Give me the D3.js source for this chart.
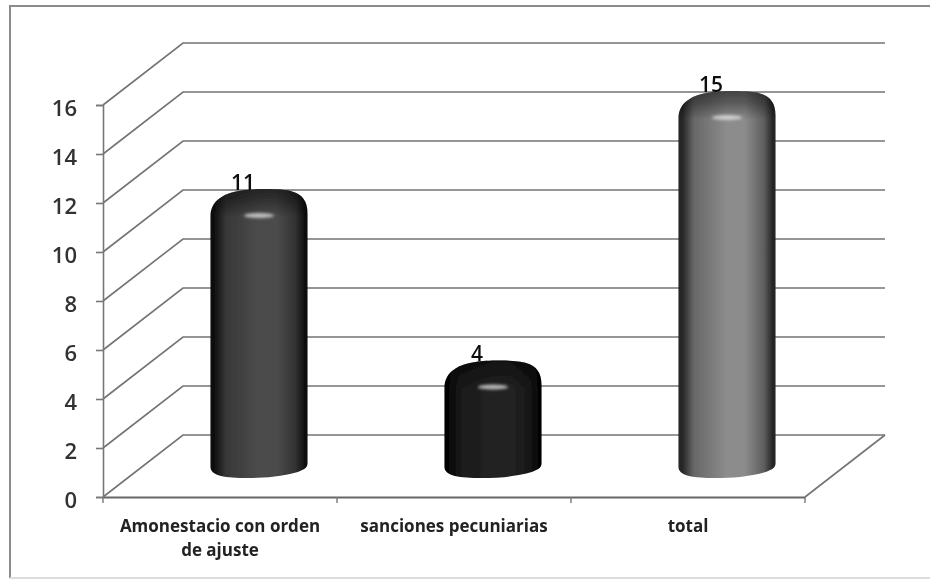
<!DOCTYPE html>
<html>
<head>
<meta charset="utf-8">
<script src="https://cdn.jsdelivr.net/npm/d3@7"></script>
<style>
  html, body { margin: 0; padding: 0; background: #fff; }
  text { font-family: "Open Sans", Lato, sans-serif; fill: #222; }
  .y text { font-size: 22px; font-weight: 600; fill: #333; }
  .cat { font-size: 17px; font-weight: 700; }
  .val { font-size: 21px; font-weight: 600; fill: #111; }
</style>
</head>
<body>
<div class="chart"></div>
<script>
const categories = ['Amonestacio con orden de ajuste', 'sanciones pecuniarias', 'total'];
const categoryLines = [['Amonestacio con orden', 'de ajuste'], ['sanciones pecuniarias'], ['total']];
const values = [11, 4, 15];
const yTicks = [0, 2, 4, 6, 8, 10, 12, 14, 16];
// edge and mid colours of each cylinder
const barEdge = ['#101010', '#050505', '#262626'];
const barMid = ['#4c4c4c', '#232323', '#8c8c8c'];

const width = 930;
const height = 583;
const depthX = 80;
const depthY = -62;

const svg = d3.select('div.chart').append('svg')
    .attr('width', width)
    .attr('height', height)
    .style('display', 'block');

const defs = svg.append('defs');
defs.append('filter').attr('id', 'soft')
    .append('feGaussianBlur').attr('stdDeviation', 0.6);
defs.append('filter').attr('id', 'shineBlur')
    .attr('x', '-50%').attr('y', '-300%').attr('width', '200%').attr('height', '700%')
    .append('feGaussianBlur').attr('stdDeviation', 1.6);

const x = d3.scaleBand()
    .domain(categories)
    .range([103, 805])
    .paddingInner(0.585)
    .paddingOuter(0.2925);
const y = d3.scaleLinear().domain([0, 16]).range([497, 105]);

const root = svg.append('g').attr('filter', 'url(#soft)');

// scanned page frame
root.append('path')
    .attr('d', 'M930,6H10V578')
    .attr('fill', 'none')
    .attr('stroke', '#8c8c8c')
    .attr('stroke-width', 2);
root.append('path')
    .attr('d', 'M10,578H930')
    .attr('fill', 'none')
    .attr('stroke', '#dcdcdc')
    .attr('stroke-width', 2);

// floor and back wall lines
const grid = root.append('g').attr('fill', 'none').attr('stroke', '#747474').attr('stroke-width', 1.6);
grid.selectAll('path.wall')
    .data(yTicks)
    .enter()
    .append('path')
    .attr('class', 'wall')
    .attr('d', (d) => `M${x.range()[0]},${y(d)}l${depthX},${depthY}H${x.range()[1] + depthX}`);
grid.append('path')
    .attr('d', `M${x.range()[1]},${y(0)}l${depthX},${depthY}`);

// axes
const yAxis = root.append('g')
    .attr('class', 'y')
    .attr('transform', `translate(${x.range()[0]},0)`)
    .call(d3.axisLeft(y).tickValues(yTicks).tickSize(7).tickPadding(19));
yAxis.selectAll('line, path').attr('stroke', '#777').attr('stroke-width', 1.6);
yAxis.selectAll('text').attr('transform', 'translate(0,3)');

const xAxis = root.append('g')
    .attr('transform', `translate(0,${y(0)})`)
    .call(d3.axisBottom(x).tickSize(0).tickFormat(''));
xAxis.select('.domain').attr('stroke', '#666').attr('stroke-width', 1.8);
xAxis.selectAll('line.edge')
    .data(d3.range(categories.length + 1))
    .enter()
    .append('line')
    .attr('class', 'edge')
    .attr('x1', (d) => x.range()[0] + d * x.step())
    .attr('x2', (d) => x.range()[0] + d * x.step())
    .attr('y1', 0)
    .attr('y2', 6)
    .attr('stroke', '#777')
    .attr('stroke-width', 1.4);

// gradients for the cylinders
categories.forEach(function(c, i) {
  const side = defs.append('linearGradient').attr('id', 'side' + i);
  const shade = d3.interpolateRgb(barMid[i], barEdge[i]);
  [[0, barEdge[i]], [0.04, barEdge[i]], [0.16, shade(0.35)], [0.5, barMid[i]], [0.68, barMid[i]],
    [0.88, shade(0.45)], [0.97, barEdge[i]], [1, barEdge[i]]].forEach(function(s) {
    side.append('stop').attr('offset', s[0]).attr('stop-color', s[1]);
  });
});
const capFade = defs.append('linearGradient').attr('id', 'capFade')
    .attr('x1', 0).attr('x2', 0).attr('y1', 0).attr('y2', 1);
[[0, '#000', 0.55], [0.45, '#000', 0.35], [1, '#000', 0]].forEach(function(s) {
  capFade.append('stop').attr('offset', s[0]).attr('stop-color', s[1]).attr('stop-opacity', s[2]);
});

const barLeft = (i) => x(categories[i]) + depthX / 2 - 1;
const barTop = (d) => y(d) - 38;

// cylinder outline: rounded shoulders on top, tilted ellipse at the foot
function cylinder(d, i) {
  const l = barLeft(i);
  const w = x.bandwidth();
  const t = barTop(d);
  const b = y(0) - 19;
  return `M${l},${t + 27}` +
      `C${l},${t + 10} ${l + w * 0.16},${t + 3} ${l + w * 0.32},${t + 1}` +
      `C${l + w * 0.45},${t - 1} ${l + w * 0.75},${t - 1} ${l + w * 0.84},${t + 2}` +
      `C${l + w * 0.95},${t + 5} ${l + w},${t + 12} ${l + w},${t + 24}` +
      `L${l + w},${b - 15}` +
      `C${l + w},${b - 10} ${l + w * 0.97},${b - 9} ${l + w * 0.9},${b - 6}` +
      `C${l + w * 0.72},${b - 1} ${l + w * 0.55},${b} ${l + w * 0.38},${b}` +
      `C${l + w * 0.16},${b} ${l},${b - 2} ${l},${b - 11}Z`;
}

values.forEach(function(d, i) {
  defs.append('clipPath').attr('id', 'clip' + i).append('path').attr('d', cylinder(d, i));
});

const bars = root.selectAll('g.bar')
    .data(values)
    .enter()
    .append('g')
    .attr('class', 'bar');

bars.append('path')
    .attr('d', cylinder)
    .attr('fill', (d, i) => `url(#side${i})`);

// darkened top of the cylinder, fading out below the shoulders
bars.append('rect')
    .attr('clip-path', (d, i) => `url(#clip${i})`)
    .attr('x', (d, i) => barLeft(i))
    .attr('y', (d) => barTop(d) - 2)
    .attr('width', x.bandwidth())
    .attr('height', 30)
    .attr('fill', 'url(#capFade)');

// light streak below the cap
bars.append('ellipse')
    .attr('cx', (d, i) => barLeft(i) + x.bandwidth() / 2)
    .attr('cy', (d) => barTop(d) + 26)
    .attr('rx', 15)
    .attr('ry', 2.6)
    .attr('fill', '#e6e6e6')
    .attr('opacity', 0.75)
    .attr('filter', 'url(#shineBlur)');

// value labels
root.selectAll('text.val')
    .data(values)
    .enter()
    .append('text')
    .attr('class', 'val')
    .attr('text-anchor', 'middle')
    .attr('x', (d, i) => x(categories[i]) + x.bandwidth() / 2 + 23)
    .attr('y', (d) => barTop(d))
    .text((d) => d);

// category labels
const cats = root.selectAll('text.cat')
    .data(categoryLines)
    .enter()
    .append('text')
    .attr('class', 'cat')
    .attr('text-anchor', 'middle')
    .attr('y', 532);
cats.selectAll('tspan')
    .data((d, i) => d.map((line) => ({line: line, c: categories[i]})))
    .enter()
    .append('tspan')
    .attr('x', (d) => x(d.c) + x.bandwidth() / 2)
    .attr('dy', (d, i) => (i === 0 ? 0 : 24))
    .text((d) => d.line);
</script>
</body>
</html>
